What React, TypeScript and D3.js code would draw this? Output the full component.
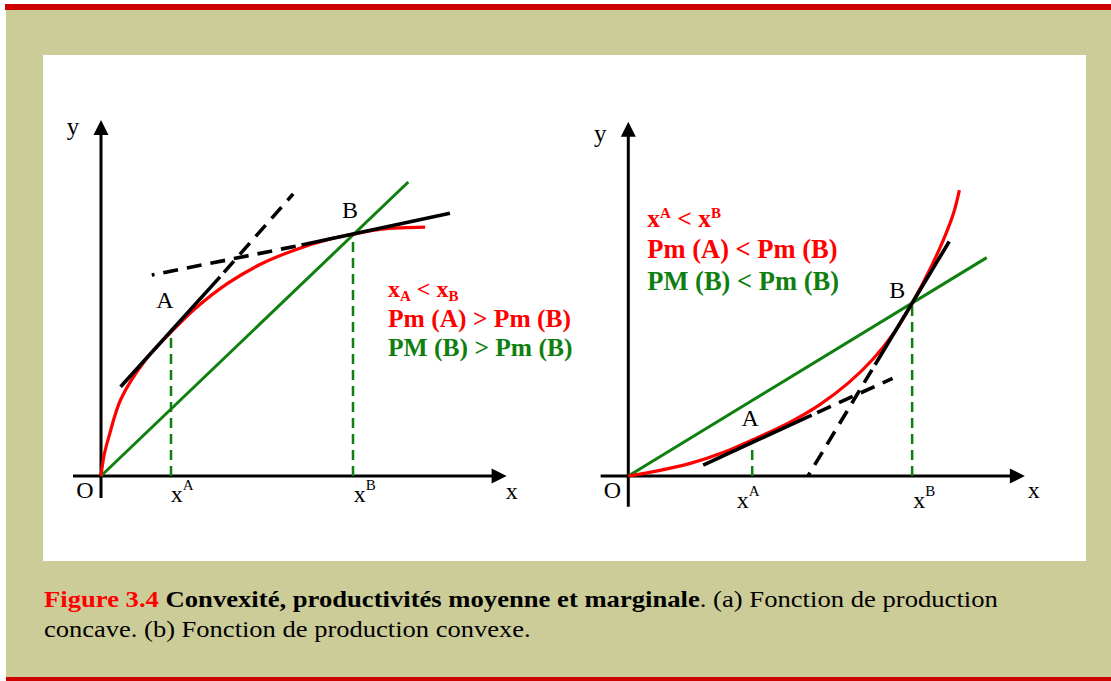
import React from 'react';
import * as d3 from 'd3';

const W = 1111;
const H = 681;

// ---------- Panel (a): concave production function ----------
const concaveX = [0, 0.09, 0.23, 0.57, 1.26, 2.0, 2.71, 3.63, 4.6, 5.54, 6.49, 7.2, 7.91, 8.57, 9.26];
const concaveY = [0, 0.6, 1.14, 2.2, 3.3, 4.11, 4.8, 5.51, 6.07, 6.46, 6.76, 6.91, 7.04, 7.09, 7.11];
const concavePointA = [2.0, 4.11];
const concavePointB = [7.2, 6.91];
const concaveTangentA = [[0.56, 2.55], [3.4, 5.69], [5.49, 8.06]]; // solid, then dashed
const concaveTangentB = [[9.97, 7.51], [5.73, 6.6], [1.45, 5.74]]; // solid, then dashed
const concaveRay = [[0, 0], [8.78, 8.4]];
const concaveAxisX = [-0.8, 11.59];
const concaveAxisY = [-0.63, 10.17];
const concaveText = ['Pm (A) > Pm (B)', 'PM (B) > Pm (B)'];

// ---------- Panel (b): convex production function ----------
const convexX = [0, 0.8, 1.77, 2.71, 3.54, 4.57, 5.43, 6.29, 7.0, 7.6, 8.11, 8.63, 9.0, 9.29, 9.46];
const convexY = [0, 0.14, 0.36, 0.67, 1.03, 1.51, 2.01, 2.66, 3.35, 4.1, 4.94, 5.93, 6.74, 7.5, 8.17];
const convexPointA = [3.54, 1.03];
const convexPointB = [8.11, 4.94];
const convexTangentA = [[2.14, 0.31], [5.24, 1.74], [7.55, 2.79]];
const convexTangentB = [[9.17, 6.7], [7.05, 3.18], [5.14, 0.01]];
const convexRay = [[0, 0], [10.24, 6.24]];
const convexAxisX = [-0.79, 11.33];
const convexAxisY = [-0.88, 10.12];
const convexText = ['Pm (A) < Pm (B)', 'PM (B) < Pm (B)'];

const captionLine1 = ['Figure 3.4', ' Convexité, productivités moyenne et marginale', '. (a) Fonction de production'];
const captionLine2 = 'concave. (b) Fonction de production convexe.';

const RED = '#ff0000';
const GREEN = '#0f800f';
const OLIVE = '#cccc99';
const SERIF = '"Liberation Serif", "Times New Roman", serif';

type Pt = number[];

function Panel(props: {
  ox: number; oy: number; cx: number[]; cy: number[]; A: Pt; B: Pt; tA: Pt[]; tB: Pt[]; ray: Pt[];
  axX: number[]; axY: number[]; convex: boolean;
}) {
  const { ox, oy, cx, cy, A, B, tA, tB, ray, axX, axY, convex } = props;
  const x = d3.scaleLinear().domain([0, 10]).range([ox, ox + 350]);
  const y = d3.scaleLinear().domain([0, 10]).range([oy, oy - 350]);
  const pts: [number, number][] = cx.map((v, i) => [v, cy[i]]);
  const curve = d3.line<[number, number]>().x(d => x(d[0])).y(d => y(d[1])).curve(d3.curveCatmullRom.alpha(0.5))(pts) || '';
  const seg = (p: Pt, q: Pt) => ({ x1: x(p[0]), y1: y(p[1]), x2: x(q[0]), y2: y(q[1]) });
  const ah = 15, aw = 7.5;
  const xTip = x(axX[1]);
  const yTip = y(axY[1]);
  const ax = x(A[0]), ay = y(A[1]), bx = x(B[0]), by = y(B[1]);
  const labelOff = convex
    ? { A: [-2, -13.5], B: [-15, -5], xA: [-15.5, 32.3], xB: [1, 32.3] }
    : { A: [-6, -24.5], B: [-3, -16.6], xA: [-0.3, 25.7], xB: [0.7, 25.7] };
  return (
    <g>
      {/* axes */}
      <line {...seg([axX[0], 0], [axX[1], 0])} x2={xTip - ah + 1} stroke="#000" strokeWidth={3} />
      <line {...seg([0, axY[0]], [0, axY[1]])} y2={yTip + ah - 1} stroke="#000" strokeWidth={3} />
      <path d={`M${xTip},${oy}L${xTip - ah},${oy - aw}L${xTip - ah},${oy + aw}Z`} fill="#000" />
      <path d={`M${ox},${yTip}L${ox - aw},${yTip + ah}L${ox + aw},${yTip + ah}Z`} fill="#000" />
      {/* green dashed verticals */}
      <line {...seg([A[0], 0], A)} stroke={GREEN} strokeWidth={2.5} strokeDasharray="10 6" />
      <line {...seg([B[0], 0], B)} stroke={GREEN} strokeWidth={2.5} strokeDasharray="10 6" />
      {/* average product ray */}
      <line {...seg(ray[0], ray[1])} stroke={GREEN} strokeWidth={3} />
      {/* curve */}
      <path d={curve} fill="none" stroke={RED} strokeWidth={3.2} />
      {/* tangents */}
      <line {...seg(tA[0], tA[1])} stroke="#000" strokeWidth={3.6} />
      <line {...seg(tA[1], tA[2])} stroke="#000" strokeWidth={3.6} strokeDasharray="15 9" strokeDashoffset={-6} />
      <line {...seg(tB[0], tB[1])} stroke="#000" strokeWidth={3.6} />
      <line {...seg(tB[1], tB[2])} stroke="#000" strokeWidth={3.6} strokeDasharray="15 9" strokeDashoffset={-6} />
      {/* labels */}
      <g fontFamily={SERIF} fill="#000">
        <text x={ox - 28} y={convex ? oy - 334.3 : oy - 341} fontSize={25} textAnchor="middle">y</text>
        <text x={ox - 16} y={oy + 22.3} fontSize={24} textAnchor="middle">O</text>
        <text x={xTip + (convex ? 9 : 5)} y={oy + (convex ? 22.3 : 23.3)} fontSize={24} textAnchor="middle">x</text>
        <text x={ax + labelOff.A[0]} y={ay + labelOff.A[1]} fontSize={24} textAnchor="middle">A</text>
        <text x={bx + labelOff.B[0]} y={by + labelOff.B[1]} fontSize={24} textAnchor="middle">B</text>
        <text x={ax + labelOff.xA[0]} y={oy + labelOff.xA[1]} fontSize={24}>
          x<tspan fontSize={15} dy={-12}>A</tspan>
        </text>
        <text x={bx + labelOff.xB[0]} y={oy + labelOff.xB[1]} fontSize={24}>
          x<tspan fontSize={15} dy={-12}>B</tspan>
        </text>
      </g>
    </g>
  );
}

export default function App() {
  return (
    <svg width={W} height={H} style={{ position: 'absolute', left: 0, top: 0 }} xmlns="http://www.w3.org/2000/svg">
      <rect x={0} y={0} width={W} height={H} fill="#fff" />
      <rect x={6} y={10} width={W - 6} height={667} fill={OLIVE} />
      <rect x={5} y={4} width={W - 5} height={6} fill="#cc0000" />
      <rect x={6} y={677} width={W - 6} height={4} fill="#cc0000" />
      <rect x={43} y={55} width={1043} height={506} fill="#fff" />

      <Panel ox={101} oy={476} cx={concaveX} cy={concaveY} A={concavePointA} B={concavePointB}
        tA={concaveTangentA} tB={concaveTangentB} ray={concaveRay} axX={concaveAxisX} axY={concaveAxisY} convex={false} />
      <Panel ox={628.3} oy={476} cx={convexX} cy={convexY} A={convexPointA} B={convexPointB}
        tA={convexTangentA} tB={convexTangentB} ray={convexRay} axX={convexAxisX} axY={convexAxisY} convex={true} />

      {/* panel (a) text */}
      <g fontFamily={SERIF} fontWeight="bold">
        <text x={388} y={296.7} fontSize={24} fill={RED}>
          x<tspan fontSize={15} dy={4}>A</tspan><tspan dy={-4}> &lt; x</tspan><tspan fontSize={15} dy={4}>B</tspan>
        </text>
        <text x={388} y={327} fontSize={25.5} fill={RED}>{concaveText[0]}</text>
        <text x={388} y={356} fontSize={25.5} fill={GREEN}>{concaveText[1]}</text>
      </g>
      {/* panel (b) text */}
      <g fontFamily={SERIF} fontWeight="bold">
        <text x={647.3} y={226.7} fontSize={25.5} fill={RED}>
          x<tspan fontSize={15} dy={-8.5}>A</tspan><tspan dy={8.5}> &lt; x</tspan><tspan fontSize={15} dy={-8.5}>B</tspan>
        </text>
        <text x={647.3} y={258} fontSize={26.5} fill={RED}>{convexText[0]}</text>
        <text x={647.3} y={290} fontSize={26.5} fill={GREEN}>{convexText[1]}</text>
      </g>

      {/* caption */}
      <g fontFamily={SERIF} fontSize={24} fill="#000">
        <text transform="translate(44,607) scale(1.11,1)">
          <tspan fill={RED} fontWeight="bold">{captionLine1[0]}</tspan>
          <tspan fontWeight="bold">{captionLine1[1]}</tspan>
          <tspan>{captionLine1[2]}</tspan>
        </text>
        <text transform="translate(44,637) scale(1.105,1)">{captionLine2}</text>
      </g>
    </svg>
  );
}
